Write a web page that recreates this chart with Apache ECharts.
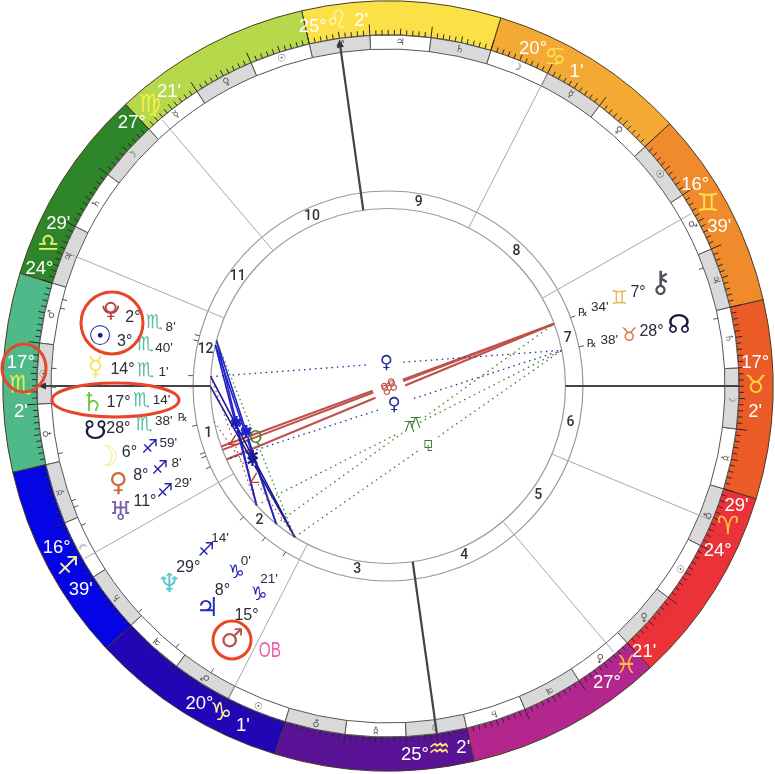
<!DOCTYPE html>
<html><head><meta charset="utf-8">
<style>html,body{margin:0;padding:0;background:#fff}#c{width:775px;height:774px}</style>
<script src="https://cdn.jsdelivr.net/npm/echarts@6/dist/echarts.min.js"></script>
</head><body><div id="c"></div>
<script>
// ---------- data ----------
const signGlyphs = ['♈','♉','♊','♋','♌','♍','♎','♏','♐','♑','♒','♓'];
const signColors = ['#ec3239','#ea5b27','#ef8a2d','#f3a934','#fbe147','#b5d94a','#2f8529','#4fb98a','#0404e4','#2206b6','#5a1297','#b2268d'];
const signGlyphColors = ['#ffc63d','#ffd23c','#ffe04a','#ffe04a','#fff6b0','#f2ee4a','#e6f26a','#d8f04a','#f4f4a8','#f6f0a0','#ffe870','#ffb840'];
const decanGlyphs = ['♂','☉','♀','☿','☽','♄','♃','♂','☉','♀','☿','☽','♄','♃','♂','☉','♀','☿','☽','♄','♃','♂','☉','♀','☿','☽','♄','♃','♂','☉','♀','☿','☽','♄','♃','♂'];
const cuspSign = [7,8,9,10,11,0,1,2,3,4,5,6];
const cuspDeg = [17,16,20,25,27,24,17,16,20,25,27,24];
const cuspMin = [2,39,1,2,21,29,2,39,1,2,21,29];
const planetGlyphs = ['♀','☉','☿','♄','☋','☽','♀','♅','♆','♃','♂','⚷','☊'];
const planetColors = ['#b2453e','#1b1ba0','#f1e66a','#72cc40','#15173f','#f8ec92','#cc6a32','#7d62b0','#58c8c8','#1c2db2','#b5544f','#4a4f58','#15173f'];
const planetSign = [7,7,7,7,7,8,8,8,8,9,9,2,1];
const planetDeg = [2,3,14,17,28,6,8,11,29,8,15,7,28];
const planetMin = [8,40,1,14,38,59,8,29,14,0,21,34,38];
const planetRetro = [0,0,0,0,1,0,0,0,0,0,0,1,1];
const rowSignColors = {7:'#58bfa0',8:'#2222b2',9:'#2320b2',2:'#ebb862',1:'#d9753a'};
// aspects: planet index a, planet index b, kind
const aspectA = [11,11,11, 0,1,0,1, 2,3, 2,12, 0, 10,9,8];
const aspectB = [ 5, 6, 7, 8,8,9,9,10,10, 12,7, 10, 12,11,12];
const aspectKind = ['opp','opp','opp','sxt','sxt','sxt','sxt','sxtd','sxtd','bq','bq','qnt','ssq','qcx','qcx'];
const extraSemi = [[2,8],[4,10]];
// ---------- layout ----------
const CX=388, CY=386;
const R={outer:385, sign:351, decan:337, house:195, inner:177.5};
const rowTheta=[165,170.5,176.5,183.5,189,194.5,200,205.4,222.3,231,238.4,20.5,11.6];
const rowR=[[287,264,242,225],[292,267,246,227],[293,266,243,225],[296,270,247,227],[296,273,247,227],[291,267,246,227],[287,263,243,225],[296,269,247,227],[296,270,246,227],[287,263,241,226],[298,270,246,227],[291,267,247,226],[297,269,246,226]];
const glyphSize=[21,27,26,26,26,28,26,26,26,26,26,30,26];
const FONT='"Liberation Sans",Arial,sans-serif', SYM='"DejaVu Sans",sans-serif';
const kindStyle={
 opp:{color:'#c0504a',width:2,dash:null,glyph:'☍',size:15,gap:16},
 sxt:{color:'#2222c8',width:1.6,dash:null,glyph:'✱',size:15,gap:5},
 sxtd:{color:'#1a1a90',width:1.6,dash:null,glyph:'✱',size:15,gap:4},
 bq:{color:'#2a2aa0',width:1.3,dash:[1.5,4],glyph:'♀',size:18,gap:17},
 qnt:{color:'#3f8a34',width:1.3,dash:[1.5,3],glyph:'Q',size:17,gap:8},
 ssq:{color:'#3f7a2f',width:1.3,dash:[1.5,4],glyph:'⚼',size:15,gap:12},
 qcx:{color:'#3f7a2f',width:1.3,dash:[1.5,4],glyph:'⚻',size:17,gap:12},
 ssm:{color:'#b8403c',width:1.2,dash:[1.5,3.5],glyph:'∠',size:14,gap:6}
};
// ---------- derived ----------
const sLon=(s,d,m)=>s*30+d+m/60;
const planetLon=planetSign.map((s,i)=>sLon(s,planetDeg[i],planetMin[i]));
const cuspLon=cuspSign.map((s,i)=>sLon(s,cuspDeg[i],cuspMin[i]));
const START=180-cuspLon[0];
const lonOf=t=>((t-START)%360+360)%360;
const thetaOf=l=>l+START;
const rad=d=>d*Math.PI/180;
const txt=(p,text,size,fill,fam,rot,weight)=>({type:'text',x:p[0],y:p[1],rotation:rot||0,style:{text:String(text),fontSize:size,fontFamily:fam||FONT,fontWeight:weight||'normal',fill:fill,align:'center',verticalAlign:'middle'}});
const sector=(r0,r,l0,l1,fill,stroke,lw)=>({type:'sector',shape:{cx:CX,cy:CY,r0:r0,r:r,startAngle:rad(-thetaOf(l1)),endAngle:rad(-thetaOf(l0)),clockwise:true},style:{fill:fill,stroke:stroke,lineWidth:lw}});
const seg=(a,b,color,w,dash)=>({type:'line',shape:{x1:a[0],y1:a[1],x2:b[0],y2:b[1]},style:{stroke:color,lineWidth:w,lineDash:dash||null,fill:null}});
function layer(n,fn,z){return {type:'custom',coordinateSystem:'polar',silent:true,animation:false,z:z,clip:false,
  data:Array.from({length:n},(_, i)=>[R.outer,i]),renderItem:(p,api)=>{const P=(r,l)=>api.coord([r,((l%360)+360)%360]);return {type:'group',children:fn(p.dataIndex,P)};}};}
const series=[
 // sign ring
 layer(12,i=>[sector(R.sign,R.outer,i*30,i*30+30,signColors[i],'#4a3c20',1)],1),
 // decan ring
 layer(36,(i,P)=>{const l=i*10+5,t=thetaOf(l);return [sector(R.decan,R.sign,i*10,i*10+10,i%2?'#ffffff':'#d9d9d9','#55555a',1),
    txt(P(344,l),decanGlyphs[i],10,'#555',SYM,rad(t-90))];},2),
 // degree ticks
 layer(360,(i,P)=>{const len=i%10==0?11:(i%5==0?6.5:5);return [seg(P(R.sign,i),P(R.sign+len,i),'#2a2a2a',1)];},3),
 // house wheel
 layer(1,(i,P)=>[{type:'circle',shape:{cx:CX,cy:CY,r:R.house},style:{fill:'#fff',stroke:'#9a9a9a',lineWidth:1.2}},
   {type:'circle',shape:{cx:CX,cy:CY,r:R.inner},style:{fill:'#fff',stroke:'#9a9a9a',lineWidth:1.2}}],4),
 // cusps
 layer(12,(i,P)=>{const l=cuspLon[i];return [seg(P(R.inner,l),P(R.sign-2,l),'#a8a8a8',1)];},5),
 // angles
 layer(12,(i,P)=>{ if(i%3) return []; const l=cuspLon[i],arrow=(i==0||i==9);
   const out=[seg(P(R.inner,l),P(arrow?R.sign-6:R.sign,l),'#444448',2.2)];
   if(arrow) out.push({type:'polygon',shape:{points:[P(R.sign-1,l),P(R.sign-9,l+0.6),P(R.sign-9,l-0.6)]},style:{fill:'#333338'}});
   return out;},6),
 // house numbers
 layer(12,(i,P)=>{const a=cuspLon[i],b=cuspLon[(i+1)%12],m=a+(((b-a)%360+360)%360)/2;return [txt(P(186,m),i+1,14,'#333','Roboto,sans-serif',0,500)];},7),
 // planet ticks
 layer(13,(i,P)=>[seg(P(R.decan,planetLon[i]),P(R.decan-5,planetLon[i]),'#555',1),seg(P(R.house,planetLon[i]),P(R.house+5,planetLon[i]),'#555',1)],7),
 // cusp labels
 layer(12,(i,P)=>{const l=cuspLon[i],pa=P(368,l+3.8),pb=P(368,l-3.8);
   let degFirst=Math.abs(pa[0]-pb[0])>3?pa[0]<pb[0]:pa[1]<pb[1];
   const pd=degFirst?pa:pb,pm=degFirst?pb:pa,sh=p=>[p[0],p[1]+1.5];
   return [txt(sh(pd),cuspDeg[i]+'°',18.5,'#fff'),txt(sh(pm),cuspMin[i]+"'",18.5,'#fff'),txt(P(368,l),signGlyphs[cuspSign[i]],25,signGlyphColors[cuspSign[i]],SYM)];},8),
 // planets
 layer(13,(i,P)=>{const l=lonOf(rowTheta[i]),r=rowR[i],g=P(r[0],l);const out=[
    txt(g,planetGlyphs[i],glyphSize[i],planetColors[i],SYM),
    txt(P(r[1],l),planetDeg[i]+'°',16,'#2b2b3c'),
    txt(P(r[2],l),signGlyphs[planetSign[i]],19,rowSignColors[planetSign[i]],SYM),
    txt(P(r[3],l),planetMin[i]+"'",13.5,'#2b2b3c')];
    if(i===0) out.push({type:'arc',shape:{cx:g[0],cy:g[1]-6,r:7.5,startAngle:0,endAngle:Math.PI,clockwise:true},style:{stroke:planetColors[0],lineWidth:1.8,fill:null}});
    if(planetRetro[i]) out.push(txt(P(208,l),'℞',11,'#33334a',SYM));
    return out;},9),
 // aspects
 layer(aspectA.length+extraSemi.length,(i,P)=>{
   const n=aspectA.length,semi=i>=n,a=semi?extraSemi[i-n][0]:aspectA[i],b=semi?extraSemi[i-n][1]:aspectB[i],st=kindStyle[semi?'ssm':aspectKind[i]];
   const A=P(R.inner,planetLon[a]),B=P(R.inner,planetLon[b]),M=[(A[0]+B[0])/2,(A[1]+B[1])/2];
   const d=Math.hypot(B[0]-A[0],B[1]-A[1]),ux=(B[0]-A[0])/d,uy=(B[1]-A[1])/d;
   return [seg(A,[M[0]-ux*st.gap,M[1]-uy*st.gap],st.color,st.width,st.dash),seg([M[0]+ux*st.gap,M[1]+uy*st.gap],B,st.color,st.width,st.dash),
     txt(M,st.glyph,st.size,st.color,SYM)];},10)
];
const annotate=(shape,type)=>({type:type,shape:shape,silent:true,z:20,style:{fill:'none',stroke:'#e8452a',lineWidth:3}});
const option={animation:false,backgroundColor:'#fff',
 polar:{center:[CX,CY],radius:R.outer},
 angleAxis:{type:'value',min:0,max:360,startAngle:((START%360)+360)%360,clockwise:false,show:false},
 radiusAxis:{type:'value',min:0,max:R.outer,show:false},
 series:series,
 graphic:[annotate({cx:112,cy:323,r:31},'circle'),annotate({cx:24,cy:368,rx:22,ry:24},'ellipse'),annotate({cx:115.5,cy:400,rx:63.5,ry:17},'ellipse'),annotate({cx:232,cy:640,r:19},'circle'),
  {type:'text',x:270,y:651,scaleX:0.7,z:20,silent:true,style:{text:'OB',fontSize:22,fontFamily:'"Liberation Sans",sans-serif',fill:'#f2609f',align:'center',verticalAlign:'middle'}}]
};
echarts.init(document.getElementById('c'),null,{renderer:'canvas'}).setOption(option);
</script></body></html>
